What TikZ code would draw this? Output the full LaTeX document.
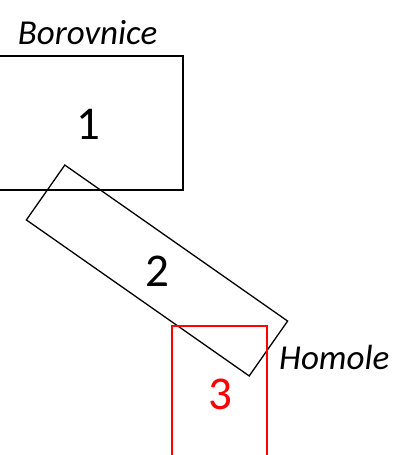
\documentclass[tikz,border=0pt]{standalone}
\usepackage{fontspec}
\setmainfont{Carlito}
\begin{document}
\begin{tikzpicture}[x=1pt,y=-1pt,
  box/.style={draw=black,line width=1.3pt,inner sep=0pt,outer sep=0pt},
  redbox/.style={draw=red,line width=1.3pt,inner sep=0pt,outer sep=0pt},
  numtxt/.style={inner sep=0pt,anchor=base,font=\fontsize{47}{56}\selectfont},
  nametxt/.style={inner sep=0pt,font=\fontsize{35}{42}\selectfont\itshape}]
\useasboundingbox (0,0) rectangle (394,455);
\node[box,minimum width=192pt,minimum height=134pt] (b1) at (87,123) {};
\node[box,minimum width=272pt,minimum height=67pt,rotate=-35] (b2) at (157,270.5) {};
\node[redbox,minimum width=95pt,minimum height=160pt] (b3) at (219.5,406) {};
\node[numtxt] (t1) at (88,139) {1};
\node[numtxt] (t2) at (157,286) {2};
\node[numtxt,text=red] (t3) at (220,409) {3};
\node[nametxt,anchor=base] (n1) at (87.5,44) {Borovnice};
\node[nametxt,anchor=base west] (n2) at (279,369) {Homole};
\end{tikzpicture}
\end{document}
